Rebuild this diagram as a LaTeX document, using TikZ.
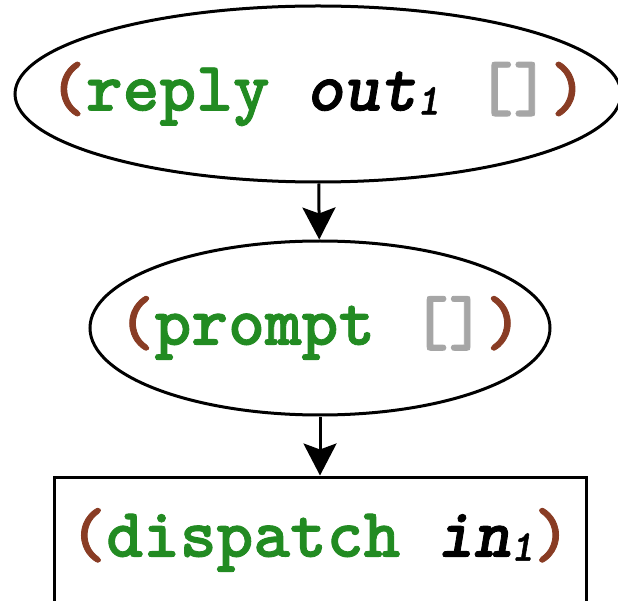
\documentclass[tikz,border=0pt]{standalone}
\usepackage{fontspec}
\newfontfamily\lispfont{lmmonolt10-bold.otf}[ItalicFont=lmmonolt10-boldoblique.otf,FakeBold=1.2]
\usetikzlibrary{shapes.geometric,arrows.meta}
\definecolor{parbrown}{RGB}{137,60,36}
\definecolor{kwgreen}{RGB}{34,139,34}
\definecolor{nilgray}{RGB}{166,166,166}
\newcommand{\po}{\textcolor{parbrown}{(}}
\newcommand{\pc}{\textcolor{parbrown}{)}}
\newcommand{\kw}[1]{\textcolor{kwgreen}{#1}}
\newcommand{\nil}{\textcolor{nilgray}{[]}}
\newcommand{\lvar}[2]{\textit{#1}\raisebox{-4pt}{\fontsize{44}{44}\selectfont\textit{#2}}}
\newcommand{\form}[1]{\makebox[0pt]{#1}}

\begin{document}
\begin{tikzpicture}[x=1pt,y=-1pt,
  every node/.style={font=\lispfont\fontsize{70}{70}\selectfont,line width=3pt,inner sep=0pt},
  sexp/.style={draw,ellipse},
  call/.style={draw,rectangle},
  link/.style={line width=3pt,-{Stealth[length=32pt,width=33pt,inset=6pt]}}]
\useasboundingbox (0,0) rectangle (618,601);
\node[sexp,minimum width=606pt,minimum height=176pt] (reply) at (318,94)
  {\form{\po\kw{reply} \lvar{out}{1} \nil\pc}};
\node[sexp,minimum width=460pt,minimum height=174pt] (prompt) at (320,328)
  {\form{\po\kw{prompt} \nil\pc}};
\node[call,minimum width=532pt,minimum height=126pt] (dispatch) at (320,540)
  {\form{\po\kw{dispatch} \lvar{in}{1}\pc}};
\draw[link] (reply) -- (prompt);
\draw[link] (prompt) -- (dispatch);
\end{tikzpicture}
\end{document}
